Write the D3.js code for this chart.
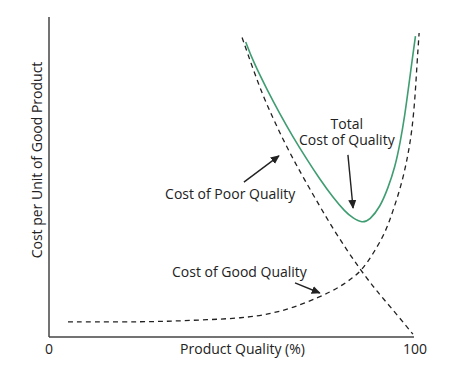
<!DOCTYPE html>
<html><head><meta charset="utf-8">
<script src="https://cdn.jsdelivr.net/npm/d3@7"></script>
<style>body{margin:0;background:#fff}svg{display:block;font-family:"Open Sans",sans-serif}</style>
</head><body><svg id="c" width="459" height="372"></svg>
<script>
// Data (x = product quality %, y = relative cost)
const poorX = [52.9, 56, 58.6, 61.4, 64.1, 66.8, 69.6, 74.2, 77.8, 81.6, 85.2, 88.8, 91.5, 95.6, 99.7];
const poorY = [93.6, 83.4, 75.5, 68.3, 61.8, 55.8, 50, 40.8, 33.9, 27.2, 21.2, 15.8, 12.1, 6.6, 0.9];
const goodX = [5.2, 19.5, 30.4, 41.4, 53.2, 60.5, 66.8, 74.2, 79.7, 83.3, 85.8, 88.8, 92.1, 94.2, 96.7, 98.4, 99.5, 100.3, 100.8, 101.4];
const goodY = [4.7, 4.7, 4.8, 5.3, 5.9, 7.2, 9.1, 12.5, 15.6, 18.6, 21.0, 26.0, 32.5, 39.2, 48.1, 57.0, 65.0, 75.0, 85, 95.0];
const totalX = [53.9, 55.9, 59.7, 63.3, 66.8, 70.7, 74.2, 77.8, 81.1, 83.3, 85.8, 87.9, 90.7, 92.9, 94.8, 96.2, 97.5, 98.6, 99.5, 100.4];
const totalY = [92.2, 86.2, 77.4, 69.6, 62.6, 55.4, 49.3, 43.6, 39.2, 37.1, 35.6, 36.6, 40.6, 46.6, 53.1, 60.6, 69.4, 78.8, 86.6, 94.0];
const xTickLabels = ["0", "100"];
const xTitle = "Product Quality (%)";
const yTitle = "Cost per Unit of Good Product";
const labels = [
  {lines: ["Cost of Poor Quality"], x: 31.8, y: 43.1, anchor: "start"},
  {lines: ["Total", "Cost of Quality"], x: 81.6, y: 65, anchor: "middle"},
  {lines: ["Cost of Good Quality"], x: 33.7, y: 18.75, anchor: "start"}
];
const arrows = [
  {from: [53.4, 48.4], to: [63.0, 56.6]},
  {from: [81.9, 56.9], to: [83.3, 40.3]},
  {from: [67.4, 16.9], to: [74.2, 13.75]}
];

const svg = d3.select("#c");
const x = d3.scaleLinear().domain([0, 100]).range([49, 414]);
const y = d3.scaleLinear().domain([0, 100]).range([337, 17]);

svg.append("defs").append("marker")
  .attr("id", "ah").attr("viewBox", "0 0 10 10").attr("refX", 9).attr("refY", 5)
  .attr("markerWidth", 9).attr("markerHeight", 9).attr("markerUnits", "userSpaceOnUse")
  .attr("orient", "auto")
  .append("path").attr("d", "M0,0.5 L10,5 L0,9.5 Z").attr("fill", "#222");

// axes
const ax = "#444";
svg.append("line").attr("x1", x(0)).attr("x2", x(0)).attr("y1", y(100)).attr("y2", y(0))
  .attr("stroke", ax).attr("stroke-width", 1.5);
svg.append("line").attr("x1", x(0)).attr("x2", x(100)).attr("y1", y(0)).attr("y2", y(0))
  .attr("stroke", ax).attr("stroke-width", 1.5);

const line = d3.line().x(d => x(d[0])).y(d => y(d[1])).curve(d3.curveBasis);
const zip = (a, b) => a.map((v, i) => [v, b[i]]);

svg.append("path").attr("d", line(zip(goodX, goodY))).attr("fill", "none")
  .attr("stroke", "#222").attr("stroke-width", 1.3).attr("stroke-dasharray", "5,4");
svg.append("path").attr("d", line(zip(poorX, poorY))).attr("fill", "none")
  .attr("stroke", "#222").attr("stroke-width", 1.3).attr("stroke-dasharray", "5,4");
svg.append("path").attr("d", line(zip(totalX, totalY))).attr("fill", "none")
  .attr("stroke", "#3f9d72").attr("stroke-width", 1.6);

// arrows
arrows.forEach(a => {
  svg.append("line").attr("x1", x(a.from[0])).attr("y1", y(a.from[1]))
    .attr("x2", x(a.to[0])).attr("y2", y(a.to[1]))
    .attr("stroke", "#222").attr("stroke-width", 1.4).attr("marker-end", "url(#ah)");
});

// labels (multi-line labels as one text with tspans)
const fs = 14, col = "#222";
labels.forEach(l => {
  const t = svg.append("text").attr("x", x(l.x)).attr("y", y(l.y))
    .attr("text-anchor", l.anchor).attr("font-size", fs).attr("fill", col);
  l.lines.forEach((s, i) => {
    t.append("tspan").attr("x", x(l.x)).attr("dy", i === 0 ? 0 : 16).text(s);
  });
});

// tick labels and titles
svg.append("text").attr("x", x(0)).attr("y", 354).attr("text-anchor", "middle")
  .attr("font-size", fs).attr("fill", col).text(xTickLabels[0]);
svg.append("text").attr("x", x(100) + 1).attr("y", 354).attr("text-anchor", "middle")
  .attr("font-size", fs).attr("fill", col).text(xTickLabels[1]);
svg.append("text").attr("x", (x(0) + x(100)) / 2 + 11).attr("y", 354).attr("text-anchor", "middle")
  .attr("font-size", fs).attr("fill", col).text(xTitle);
svg.append("text").attr("transform", "translate(42,160) rotate(-90)").attr("text-anchor", "middle")
  .attr("font-size", fs).attr("fill", col).text(yTitle);
</script></body></html>
